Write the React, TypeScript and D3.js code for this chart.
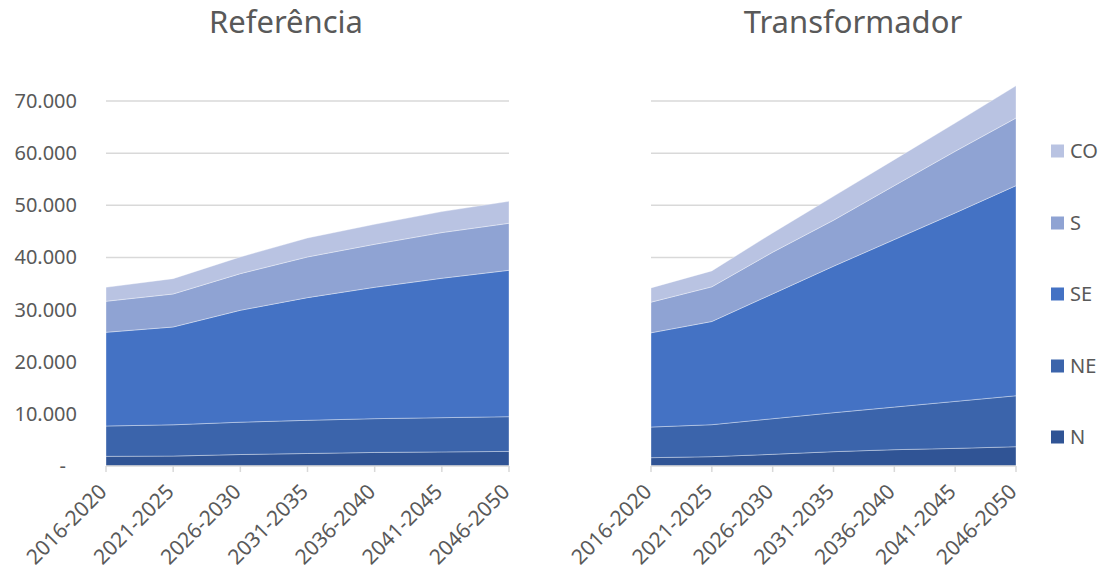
import React from "react";
import * as d3 from "d3";

const categories = ["2016-2020", "2021-2025", "2026-2030", "2031-2035", "2036-2040", "2041-2045", "2046-2050"];
const seriesKeys = ["N", "NE", "SE", "S", "CO"];
const yTicks = [0, 10000, 20000, 30000, 40000, 50000, 60000, 70000];

// Referência
const refN = [1850, 1900, 2200, 2400, 2600, 2700, 2800];
const refNE = [5820, 6000, 6200, 6360, 6480, 6570, 6660];
const refSE = [17970, 18760, 21460, 23530, 25190, 26730, 28070];
const refS = [5950, 6330, 7030, 7800, 8250, 8760, 9020];
const refCO = [2680, 2940, 3200, 3640, 3840, 4030, 4220];

// Transformador
const trN = [1600, 1790, 2240, 2750, 3130, 3380, 3700];
const trNE = [5870, 6130, 6830, 7470, 8170, 9010, 9770];
const trSE = [18070, 19790, 23940, 28090, 32120, 36140, 40300];
const trS = [5880, 6650, 7990, 8820, 10350, 11820, 12960];
const trCO = [2740, 3060, 3700, 4590, 4980, 5420, 6190];

const colors: Record<string, string> = {
  N: "#305495",
  NE: "#3B64AB",
  SE: "#4472C4",
  S: "#8FA3D3",
  CO: "#B9C3E2",
};

const textColor = "#595959";
const gridColor = "#D9D9D9";
const font = "'Noto Sans', 'Open Sans', sans-serif";

const locale = d3.formatLocale({ decimal: ",", thousands: ".", grouping: [3], currency: ["R$", ""] });
const fmt = locale.format(",.0f");

function buildRows(arrs: number[][]) {
  return categories.map((c, i) => {
    const row: any = { cat: c };
    seriesKeys.forEach((k, j) => (row[k] = arrs[j][i]));
    return row;
  });
}

type PanelProps = {
  title: string;
  titleX: number;
  x0: number;
  x1: number;
  rows: any[];
  showY: boolean;
};

const yScale = d3.scaleLinear().domain([0, 70000]).range([466, 101]);

function Panel({ title, titleX, x0, x1, rows, showY }: PanelProps) {
  const x = d3.scalePoint<string>().domain(categories).range([x0, x1]);
  const stacked = d3.stack<any>().keys(seriesKeys)(rows);
  const area = d3
    .area<any>()
    .x((d) => x(d.data.cat) as number)
    .y0((d) => yScale(d[0]))
    .y1((d) => yScale(d[1]));
  const y0 = yScale(0);
  return (
    <g>
      <text x={titleX} y={33} textAnchor="middle" fontSize={31} fill={textColor} fontFamily={font}>
        {title}
      </text>
      {yTicks.slice(1).map((t) => (
        <line key={t} x1={x0} x2={x1} y1={yScale(t)} y2={yScale(t)} stroke={gridColor} strokeWidth={1.5} />
      ))}
      {stacked.map((s) => (
        <path key={s.key} d={area(s) || ""} fill={colors[s.key]} stroke="#FFFFFF" strokeOpacity={0.35} strokeWidth={1} />
      ))}
      <line x1={x0} x2={x1} y1={y0} y2={y0} stroke={gridColor} strokeWidth={1.5} />
      {categories.map((c) => (
        <line key={c} x1={x(c)} x2={x(c)} y1={y0} y2={y0 + 6} stroke={gridColor} strokeWidth={1.5} />
      ))}
      {categories.map((c) => (
        <text
          key={c}
          transform={`translate(${(x(c) as number) + 2},${y0 + 27}) rotate(-45)`}
          textAnchor="end"
          fontSize={21}
          fill={textColor}
          fontFamily={font}
        >
          {c}
        </text>
      ))}
      {showY &&
        yTicks.map((t) => (
          <text
            key={t}
            x={t === 0 ? 66 : 77}
            y={yScale(t) + 7}
            textAnchor="end"
            fontSize={20}
            fill={textColor}
            fontFamily={font}
          >
            {t === 0 ? "-" : fmt(t)}
          </text>
        ))}
    </g>
  );
}

export default function App() {
  const refRows = buildRows([refN, refNE, refSE, refS, refCO]);
  const trRows = buildRows([trN, trNE, trSE, trS, trCO]);
  const legendY: Record<string, number> = { CO: 151, S: 223, SE: 294, NE: 366, N: 437 };
  return (
    <svg
      width={1105}
      height={576}
      style={{ position: "absolute", left: 0, top: 0, display: "block", background: "#fff" }}
    >
      <Panel title="Referência" titleX={286} x0={106} x1={509} rows={refRows} showY={true} />
      <Panel title="Transformador" titleX={853} x0={651} x1={1016} rows={trRows} showY={false} />
      {[...seriesKeys].reverse().map((k) => (
        <g key={k}>
          <rect x={1051} y={legendY[k] - 6.5} width={13} height={13} fill={colors[k]} />
          <text x={1070} y={legendY[k] + 7} fontSize={20} fill={textColor} fontFamily={font}>
            {k}
          </text>
        </g>
      ))}
    </svg>
  );
}
